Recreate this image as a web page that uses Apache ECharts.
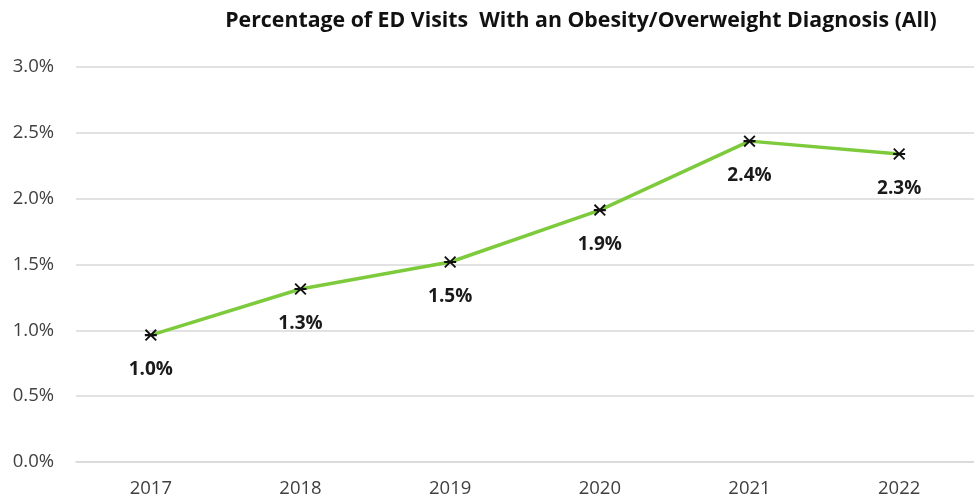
<!DOCTYPE html>
<html>
<head>
<meta charset="utf-8">
<script src="https://cdn.jsdelivr.net/npm/echarts@6/dist/echarts.min.js"></script>
<style>html,body{margin:0;padding:0;background:#fff}#c{width:974px;height:503px}</style>
</head>
<body>
<div id="c"></div>
<script>
const categories = ['2017', '2018', '2019', '2020', '2021', '2022'];
const values = [0.964, 1.314, 1.519, 1.913, 2.437, 2.339];
const labels = ['1.0%', '1.3%', '1.5%', '1.9%', '2.4%', '2.3%'];
const yTicks = [0, 0.5, 1.0, 1.5, 2.0, 2.5, 3.0];

const chart = echarts.init(document.getElementById('c'));
chart.setOption({
  animation: false,
  title: {
    text: 'Percentage of ED Visits  With an Obesity/Overweight Diagnosis (All)',
    left: 576, top: 5, textAlign: 'center',
    textStyle: {fontFamily: 'Open Sans', fontWeight: 'bold', fontSize: 21.3, color: '#111'}
  },
  grid: {left: 76, top: 67, width: 906, height: 395, containLabel: false},
  xAxis: {
    type: 'category', data: categories, boundaryGap: true,
    axisLine: {show: true, lineStyle: {color: '#d9d9d9', width: 1.5}},
    axisTick: {show: false},
    axisLabel: {fontFamily: 'Open Sans', fontSize: 18.5, color: '#404040', margin: 17}
  },
  yAxis: {
    type: 'value', min: 0, max: 3, interval: 0.5,
    axisLine: {show: false}, axisTick: {show: false},
    splitLine: {lineStyle: {color: '#d9d9d9', width: 1.5}},
    axisLabel: {fontFamily: 'Open Sans', fontSize: 18.5, color: '#404040', margin: 22,
      formatter: v => yTicks.includes(v) ? v.toFixed(1) + '%' : ''}
  },
  series: [{
    type: 'line', data: values,
    lineStyle: {color: '#7DCB3C', width: 3.5},
    symbol: 'path://M0,4.1L10,4.1L10,5.9L0,5.9ZM0,1.1L1.1,0L10,8.9L8.9,10ZM8.9,0L10,1.1L1.1,10L0,8.9Z',
    symbolSize: 12,
    itemStyle: {color: '#111', borderWidth: 0},
    label: {
      show: true, position: 'bottom', distance: 19,
      formatter: p => labels[p.dataIndex],
      fontFamily: 'Open Sans', fontWeight: 'bold', fontSize: 19, color: '#1a1a1a'
    }
  }]
});
</script>
</body>
</html>
